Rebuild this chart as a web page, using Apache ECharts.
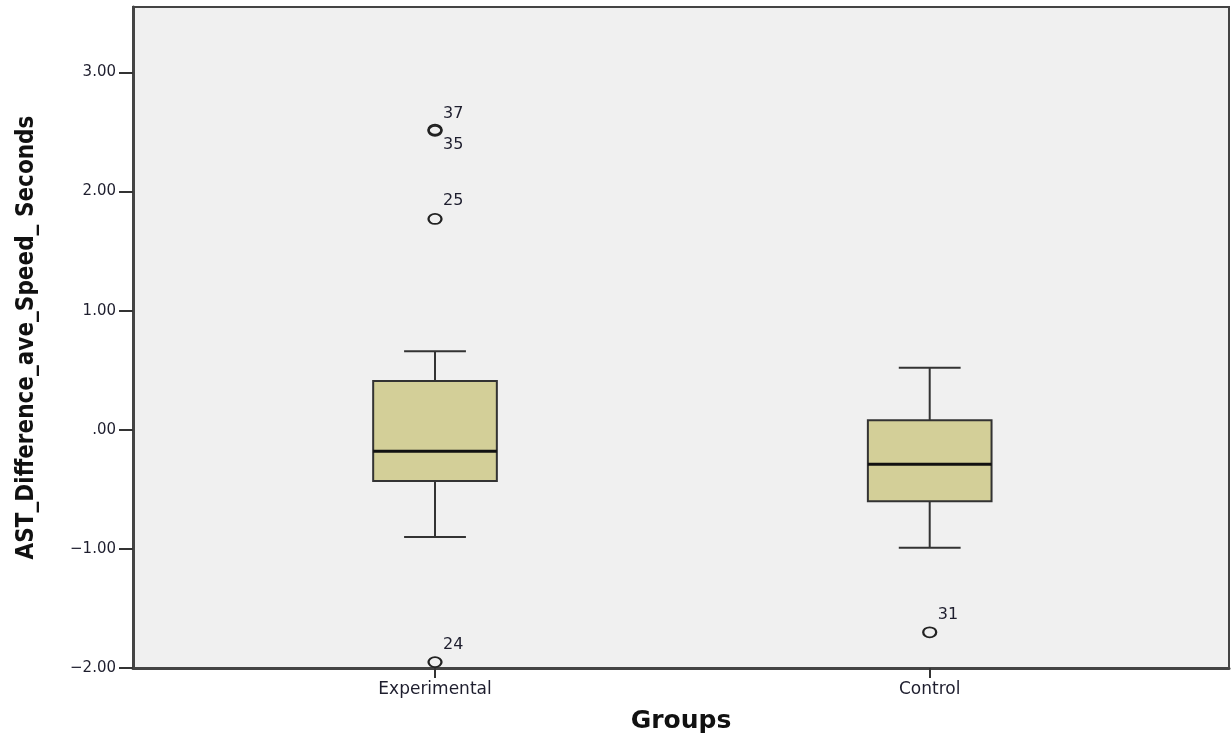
<!DOCTYPE html>
<html>
<head>
<meta charset="utf-8">
<script src="https://cdn.jsdelivr.net/npm/echarts@6/dist/echarts.min.js"></script>
<style>
  html, body { margin: 0; padding: 0; background: #ffffff; }
  #chart { width: 1231px; height: 735px; }
</style>
</head>
<body>
<div id="chart"></div>
<script>
// ---- Data ----
const groups = ['Experimental', 'Control'];
const groupX = [1, 2];
const whiskerLow = [-0.90, -0.99];
const q1 = [-0.43, -0.60];
const median = [-0.18, -0.29];
const q3 = [0.41, 0.08];
const whiskerHigh = [0.66, 0.52];

const outlierGroupX = [1, 1, 1, 1, 2];
const outlierValue = [2.52, 2.51, 1.77, -1.95, -1.70];
const outlierCase = ['37', '35', '25', '24', '31'];

const yTicks = [-2, -1, 0, 1, 2, 3];

// ---- Styling (not data) ----
const labelOffsets = { '37': [8, -16], '35': [8, 14], '25': [8, -18], '24': [8, -17], '31': [8, -17] };
const BOX_W = 0.25;
const CAP_W = 0.125;

function fmtY(v) {
  let s = Math.abs(v).toFixed(2);
  if (s.startsWith('0')) s = s.slice(1);
  return (v < 0 ? '\u2212' : '') + s;
}

const boxData = groupX.map((x, i) => [x, whiskerLow[i], q1[i], median[i], q3[i], whiskerHigh[i]]);
const outlierData = outlierValue.map((v, i) => ({
  value: [outlierGroupX[i], v],
  name: outlierCase[i],
  label: { offset: labelOffsets[outlierCase[i]] }
}));

const chart = echarts.init(document.getElementById('chart'));
chart.setOption({
  backgroundColor: '#ffffff',
  animation: false,
  grid: {
    left: 133, right: 2, top: 7, bottom: 67,
    containLabel: false,
    outerBoundsMode: 'none',
    show: true, backgroundColor: '#f0f0f0', borderColor: '#444', borderWidth: 2
  },
  xAxis: {
    type: 'value',
    min: 0.3895, max: 2.605,
    splitLine: { show: false },
    axisLine: { show: true, onZero: false, lineStyle: { color: '#444', width: 3 } },
    axisTick: { show: true, customValues: groupX, length: 10, lineStyle: { color: '#333', width: 2 } },
    axisLabel: {
      customValues: groupX,
      formatter: v => groups[groupX.indexOf(Math.round(v))] || '',
      color: '#1e1e2e', fontFamily: 'DejaVu Sans', fontSize: 17, margin: 13
    },
    name: 'Groups', nameLocation: 'middle', nameGap: 41,
    nameTextStyle: { fontFamily: 'DejaVu Sans', fontWeight: 'bold', fontSize: 25, color: '#111' }
  },
  yAxis: {
    type: 'value',
    min: -2, max: 3.55,
    splitLine: { show: false },
    axisLine: { show: true, onZero: false, lineStyle: { color: '#444', width: 3 } },
    axisTick: { show: true, customValues: yTicks, length: 14, lineStyle: { color: '#333', width: 2 } },
    axisLabel: {
      customValues: yTicks,
      formatter: fmtY,
      color: '#1e1e2e', fontFamily: 'DejaVu Sans', fontSize: 15, margin: 17
    },
    name: 'AST_Difference_ave_Speed_ Seconds', nameLocation: 'middle', nameGap: 94,
    nameTextStyle: { fontFamily: '"DejaVu Sans Condensed", "Liberation Sans", sans-serif', fontWeight: 'bold', fontSize: 24, color: '#111' }
  },
  series: [
    {
      type: 'custom',
      data: boxData,
      encode: { x: 0, y: [1, 2, 3, 4, 5] },
      renderItem: function (params, api) {
        const x = api.value(0);
        const pMin = api.coord([x, api.value(1)]);
        const pQ1 = api.coord([x, api.value(2)]);
        const pMed = api.coord([x, api.value(3)]);
        const pQ3 = api.coord([x, api.value(4)]);
        const pMax = api.coord([x, api.value(5)]);
        const halfBox = api.size([BOX_W, 0])[0] / 2;
        const halfCap = api.size([CAP_W, 0])[0] / 2;
        const cx = pMed[0];
        const lineStyle = { stroke: '#333', lineWidth: 2, fill: null };
        return {
          type: 'group',
          children: [
            { type: 'line', shape: { x1: cx, y1: pQ3[1], x2: cx, y2: pMax[1] }, style: lineStyle },
            { type: 'line', shape: { x1: cx, y1: pQ1[1], x2: cx, y2: pMin[1] }, style: lineStyle },
            { type: 'line', shape: { x1: cx - halfCap, y1: pMax[1], x2: cx + halfCap, y2: pMax[1] }, style: lineStyle },
            { type: 'line', shape: { x1: cx - halfCap, y1: pMin[1], x2: cx + halfCap, y2: pMin[1] }, style: lineStyle },
            { type: 'rect', shape: { x: cx - halfBox, y: pQ3[1], width: halfBox * 2, height: pQ1[1] - pQ3[1] },
              style: { fill: '#d3cf98', stroke: '#333', lineWidth: 2 } },
            { type: 'line', shape: { x1: cx - halfBox, y1: pMed[1], x2: cx + halfBox, y2: pMed[1] },
              style: { stroke: '#111', lineWidth: 3 } }
          ]
        };
      },
      z: 2
    },
    {
      type: 'scatter',
      data: outlierData,
      symbol: 'circle',
      symbolSize: [13, 10],
      itemStyle: { color: 'rgba(0,0,0,0)', borderColor: '#222', borderWidth: 2, opacity: 1 },
      label: {
        show: true,
        position: 'inside',
        align: 'left',
        verticalAlign: 'middle',
        formatter: p => p.name,
        fontFamily: 'DejaVu Sans', fontSize: 16, color: '#1e1e2e'
      },
      z: 3
    }
  ]
});
</script>
</body>
</html>
